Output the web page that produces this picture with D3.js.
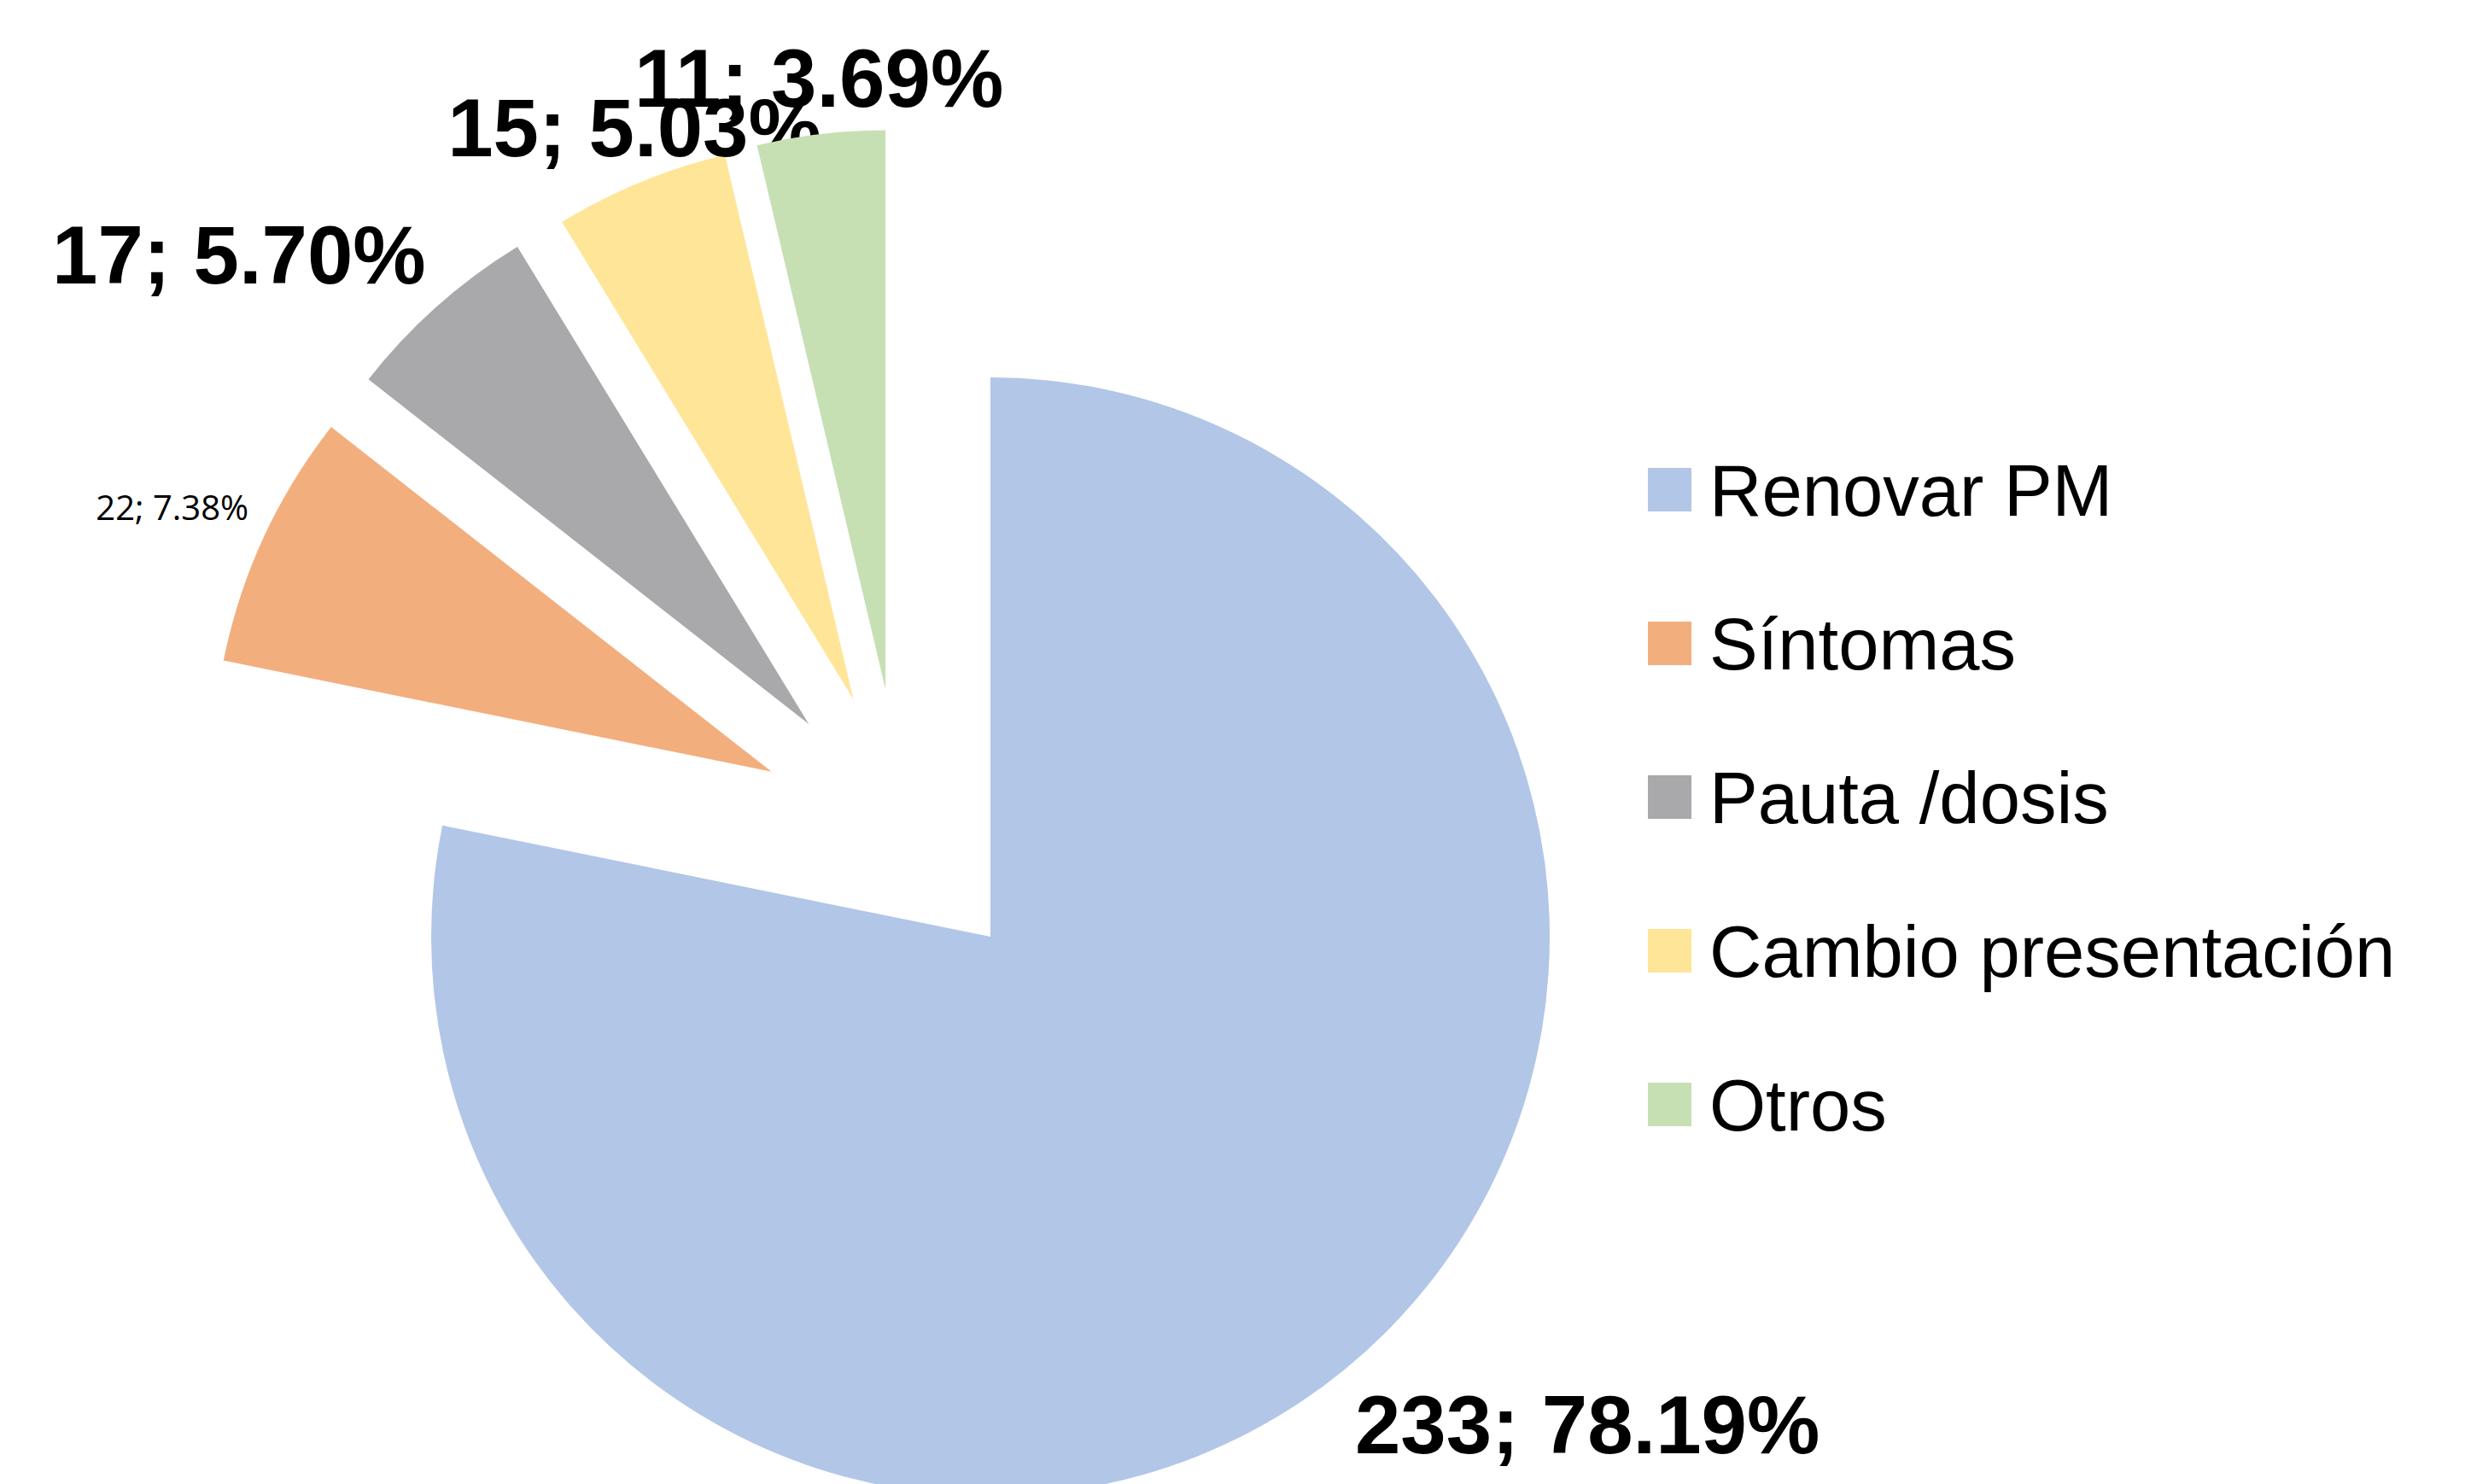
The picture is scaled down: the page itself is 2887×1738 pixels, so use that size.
<!DOCTYPE html>
<html>
<head>
<meta charset="utf-8">
<script src="https://cdn.jsdelivr.net/npm/d3@7"></script>
<style>
  html, body { margin: 0; padding: 0; background: #ffffff; }
  svg { display: block; }
</style>
</head>
<body>
<div id="chart"></div>
<script>
// data
const categories = ['Renovar PM', 'Síntomas', 'Pauta /dosis', 'Cambio presentación', 'Otros'];
const counts = [233, 22, 17, 15, 11];

const WIDTH = 2887;
const HEIGHT = 1738;
const CENTER = { X: 1160, Y: 1097 };
const RADIUS = 655;
const COLORS = ['#b2c6e7', '#f3ae7e', '#a9a8aa', '#ffe598', '#c6e0b4'];
// pulled-out slices: distance (fraction of radius) and direction (degrees, clockwise from 12 o'clock)
const EXPLODE_DIST = [0, 0.49, 0.50, 0.49, 0.48];
const EXPLODE_DIR = [0, 307, 319.5, 330, 337];
const LABEL_FONT = { BIG: 96, SMALL: 40 };
const LEGEND = { X: 1930, Y: 548, STEP: 180, BOX: 51, FONT: 85 };

const total = d3.sum(counts);
const pct = d3.format('.2%');
const rad = (deg) => (deg * Math.PI) / 180;

const svg = d3
  .select('#chart')
  .append('svg')
  .attr('width', WIDTH)
  .attr('height', HEIGHT);

svg.append('rect').attr('width', WIDTH).attr('height', HEIGHT).attr('fill', '#ffffff');

const pie = d3.pie().sort(null).value((d) => d.count);
const arc = d3.arc().innerRadius(0).outerRadius(RADIUS);

const slices = pie(categories.map((name, i) => ({ name, count: counts[i], i })));

const offsetOf = (i) => {
  const a = rad(EXPLODE_DIR[i]);
  const d = EXPLODE_DIST[i] * RADIUS;
  return [d * Math.sin(a), -d * Math.cos(a)];
};

const pieGroup = svg
  .append('g')
  .attr('transform', `translate(${CENTER.X}, ${CENTER.Y})`);

const sliceGroups = pieGroup
  .selectAll('g.slice')
  .data(slices)
  .join('g')
  .attr('class', 'slice')
  .attr('transform', (d) => `translate(${offsetOf(d.data.i)})`);

sliceGroups
  .append('path')
  .attr('d', arc)
  .attr('fill', (d) => COLORS[d.data.i]);

// labels: "count; percent" just outside each slice, placed by side
sliceGroups
  .append('text')
  .each(function (d) {
    const mid = (d.startAngle + d.endAngle) / 2;
    const s = Math.sin(mid);
    const c = -Math.cos(mid);
    const r = RADIUS * 1.03;
    const small = d.data.i === 1;
    const size = small ? LABEL_FONT.SMALL : LABEL_FONT.BIG;
    const anchor = Math.abs(s) < 0.5 ? 'middle' : s < 0 ? 'end' : 'start';
    const dy = c < 0 ? -12 : size * 0.72 + 14;
    d3.select(this)
      .attr('x', r * s)
      .attr('y', r * c + dy)
      .attr('text-anchor', anchor)
      .style('font-family', small ? '"Open Sans", sans-serif' : '"Liberation Sans", Arial, sans-serif')
      .style('font-weight', small ? 'normal' : 'bold')
      .style('font-size', `${size}px`)
      .attr('fill', '#000000')
      .text(`${d.data.count}; ${pct(d.data.count / total)}`);
  });

// legend
const legend = svg
  .append('g')
  .attr('transform', `translate(${LEGEND.X}, ${LEGEND.Y})`);

const rows = legend
  .selectAll('g')
  .data(categories)
  .join('g')
  .attr('transform', (d, i) => `translate(0, ${i * LEGEND.STEP})`);

rows
  .append('rect')
  .attr('width', LEGEND.BOX)
  .attr('height', LEGEND.BOX)
  .attr('fill', (d, i) => COLORS[i]);

rows
  .append('text')
  .attr('x', LEGEND.BOX + 21)
  .attr('y', LEGEND.BOX / 2 + 30)
  .style('font-family', '"Liberation Sans", Arial, sans-serif')
  .style('font-size', `${LEGEND.FONT}px`)
  .attr('fill', '#000000')
  .text((d) => d);
</script>
</body>
</html>
